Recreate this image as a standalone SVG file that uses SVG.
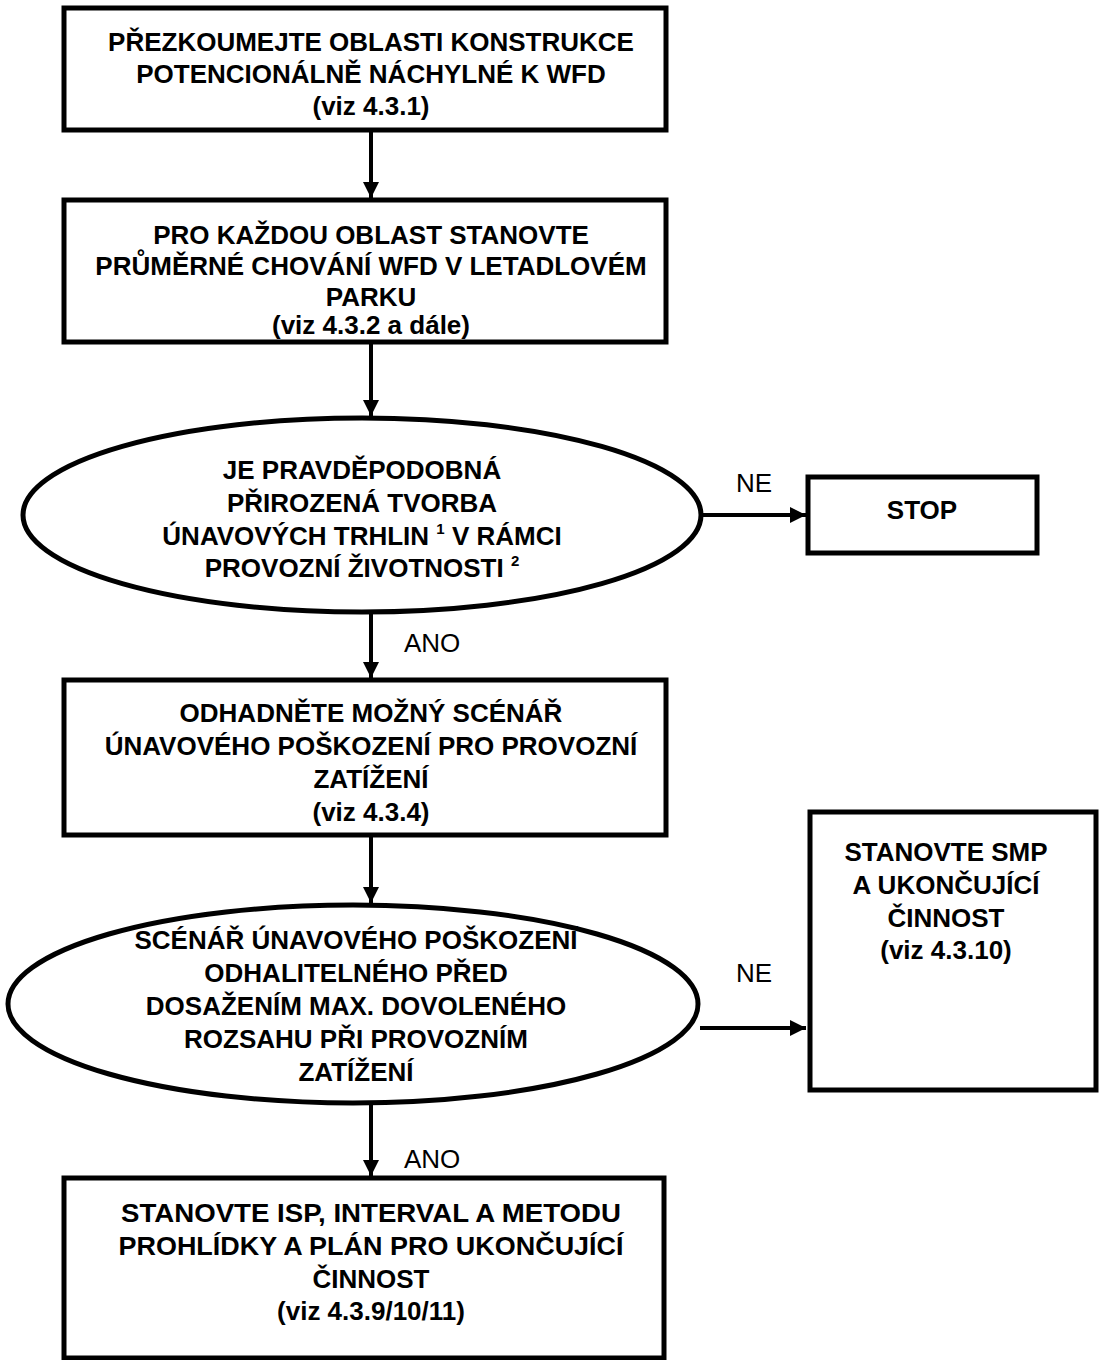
<svg xmlns="http://www.w3.org/2000/svg" width="1099" height="1360" viewBox="0 0 1099 1360">
<defs>
<style>
.box{fill:#fff;stroke:#000;stroke-width:5}
.t{font-family:"Liberation Sans",Arial,sans-serif;font-weight:bold;font-size:26px;text-anchor:middle;fill:#000}
.lbl{font-family:"Liberation Sans",Arial,sans-serif;font-size:26px;fill:#000}
.sup{font-size:15px}
.c{stroke:#000;stroke-width:4;fill:none}
</style>
<marker id="ah" viewBox="0 0 10 10" refX="10" refY="5" markerWidth="4" markerHeight="4.2" markerUnits="strokeWidth" orient="auto">
<path d="M0,0 L10,5 L0,10 z" fill="#000"/>
</marker>
</defs>
<rect width="1099" height="1360" fill="#fff"/>
<g id="connectors">
<line class="c" x1="371" y1="130" x2="371" y2="198" marker-end="url(#ah)"/>
<line class="c" x1="371" y1="342" x2="371" y2="416" marker-end="url(#ah)"/>
<line class="c" x1="702" y1="515" x2="806" y2="515" marker-end="url(#ah)"/>
<line class="c" x1="371" y1="612" x2="371" y2="678" marker-end="url(#ah)"/>
<line class="c" x1="371" y1="835" x2="371" y2="903" marker-end="url(#ah)"/>
<line class="c" x1="700" y1="1028" x2="806" y2="1028" marker-end="url(#ah)"/>
<line class="c" x1="371" y1="1103" x2="371" y2="1176" marker-end="url(#ah)"/>
<text class="lbl" x="736" y="492">NE</text>
<text class="lbl" x="736" y="982">NE</text>
<text class="lbl" x="404" y="652">ANO</text>
<text class="lbl" x="404" y="1168">ANO</text>
</g>
<g id="n1">
<rect class="box" x="64" y="8" width="602" height="122"/>
<text class="t" x="371" y="51">PŘEZKOUMEJTE OBLASTI KONSTRUKCE</text>
<text class="t" x="371" y="83">POTENCIONÁLNĚ NÁCHYLNÉ K WFD</text>
<text class="t" x="371" y="115">(viz 4.3.1)</text>
</g>
<g id="n2">
<rect class="box" x="64" y="200" width="602" height="142"/>
<text class="t" x="371" y="244">PRO KAŽDOU OBLAST STANOVTE</text>
<text class="t" x="371" y="275">PRŮMĚRNÉ CHOVÁNÍ WFD V LETADLOVÉM</text>
<text class="t" x="371" y="306">PARKU</text>
<text class="t" x="371" y="334">(viz 4.3.2 a dále)</text>
</g>
<g id="n3">
<ellipse class="box" cx="362" cy="515" rx="339" ry="97"/>
<text class="t" x="362" y="479">JE PRAVDĚPODOBNÁ</text>
<text class="t" x="362" y="512">PŘIROZENÁ TVORBA</text>
<text class="t" x="362" y="545">ÚNAVOVÝCH TRHLIN <tspan class="sup" dy="-11">1</tspan><tspan dy="11"> V RÁMCI</tspan></text>
<text class="t" x="362" y="577">PROVOZNÍ ŽIVOTNOSTI <tspan class="sup" dy="-11">2</tspan></text>
</g>
<g id="n4">
<rect class="box" x="808" y="477" width="229" height="76"/>
<text class="t" x="922" y="519">STOP</text>
</g>
<g id="n5">
<rect class="box" x="64" y="680" width="602" height="155"/>
<text class="t" x="371" y="722">ODHADNĚTE MOŽNÝ SCÉNÁŘ</text>
<text class="t" x="371" y="755">ÚNAVOVÉHO POŠKOZENÍ PRO PROVOZNÍ</text>
<text class="t" x="371" y="788">ZATÍŽENÍ</text>
<text class="t" x="371" y="821">(viz 4.3.4)</text>
</g>
<g id="n6">
<ellipse class="box" cx="353" cy="1004" rx="345" ry="99"/>
<text class="t" x="356" y="949">SCÉNÁŘ ÚNAVOVÉHO POŠKOZENÍ</text>
<text class="t" x="356" y="982">ODHALITELNÉHO PŘED</text>
<text class="t" x="356" y="1015">DOSAŽENÍM MAX. DOVOLENÉHO</text>
<text class="t" x="356" y="1048">ROZSAHU PŘI PROVOZNÍM</text>
<text class="t" x="356" y="1081">ZATÍŽENÍ</text>
</g>
<g id="n7">
<rect class="box" x="810" y="812" width="286" height="278"/>
<text class="t" x="946" y="861">STANOVTE SMP</text>
<text class="t" x="946" y="894">A UKONČUJÍCÍ</text>
<text class="t" x="946" y="927">ČINNOST</text>
<text class="t" x="946" y="959">(viz 4.3.10)</text>
</g>
<g id="n8">
<rect class="box" x="64" y="1178" width="600" height="180"/>
<text class="t" x="371" y="1222" textLength="500" lengthAdjust="spacingAndGlyphs">STANOVTE ISP, INTERVAL A METODU</text>
<text class="t" x="371" y="1255" textLength="505" lengthAdjust="spacingAndGlyphs">PROHLÍDKY A PLÁN PRO UKONČUJÍCÍ</text>
<text class="t" x="371" y="1288">ČINNOST</text>
<text class="t" x="371" y="1320">(viz 4.3.9/10/11)</text>
</g>
</svg>
